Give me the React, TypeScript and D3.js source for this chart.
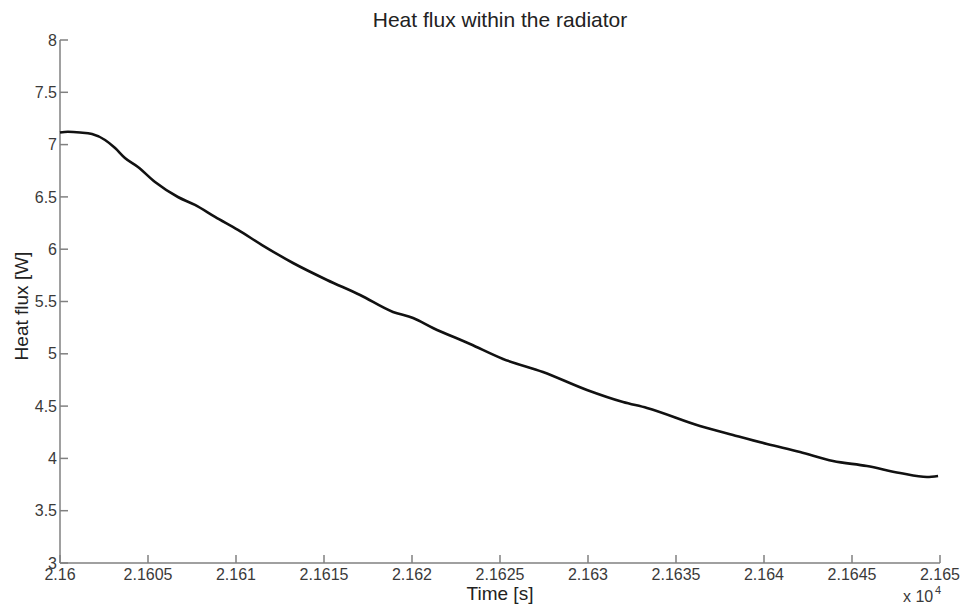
import React from "react";
import * as d3 from "d3";

const title = "Heat flux within the radiator";
const xLabel = "Time [s]";
const yLabel = "Heat flux [W]";

// time in seconds, heat flux in W
const timeValues = [
  21600.0, 21600.45, 21601.14, 21601.82, 21602.56, 21603.13, 21603.69, 21604.43,
  21605.4, 21606.7, 21607.67, 21608.81, 21610.11, 21611.48, 21613.24, 21615.17,
  21617.05, 21618.92, 21620.06, 21621.19, 21623.3, 21625.17, 21627.44, 21629.94,
  21631.99, 21633.35, 21636.36, 21638.24, 21640.17, 21642.05, 21643.92, 21645.85,
  21647.73, 21649.26, 21649.89,
];
const fluxValues = [
  7.115, 7.123, 7.116, 7.101, 7.044, 6.967, 6.872, 6.786,
  6.642, 6.499, 6.423, 6.308, 6.184, 6.04, 5.868, 5.706,
  5.562, 5.4, 5.342, 5.247, 5.094, 4.951, 4.826, 4.654,
  4.539, 4.482, 4.31, 4.224, 4.138, 4.061, 3.975, 3.927,
  3.86, 3.822, 3.832,
];

const xTicks = [2.16, 2.1605, 2.161, 2.1615, 2.162, 2.1625, 2.163, 2.1635, 2.164, 2.1645, 2.165];
const xTickLabels = ["2.16", "2.1605", "2.161", "2.1615", "2.162", "2.1625", "2.163", "2.1635", "2.164", "2.1645", "2.165"];
const yTicks = [3, 3.5, 4, 4.5, 5, 5.5, 6, 6.5, 7, 7.5, 8];
const yTickLabels = ["3", "3.5", "4", "4.5", "5", "5.5", "6", "6.5", "7", "7.5", "8"];

const W = 969;
const H = 606;
const left = 60;
const right = 940;
const top = 40;
const bottom = 563;
const font = "'Liberation Sans', Arial, sans-serif";

export default function App() {
  const x = d3.scaleLinear().domain([2.16, 2.165]).range([left, right]);
  const y = d3.scaleLinear().domain([3, 8]).range([bottom, top]);
  const data = timeValues.map((t, i) => ({ t: t / 1e4, v: fluxValues[i] }));
  const line = d3
    .line<{ t: number; v: number }>()
    .x((d) => x(d.t))
    .y((d) => y(d.v))
    .curve(d3.curveMonotoneX);

  const axisColor = "#808080";
  const textColor = "#3a3a3a";
  const tickLen = 8;

  return (
    <svg
      width={W}
      height={H}
      style={{ position: "absolute", left: 0, top: 0, background: "#fff" }}
      fontFamily={font}
    >
      <rect x={0} y={0} width={W} height={H} fill="#fff" />
      {/* axes */}
      <line x1={left} y1={top} x2={left} y2={bottom} stroke={axisColor} strokeWidth={1.5} />
      <line x1={left} y1={bottom} x2={right} y2={bottom} stroke={axisColor} strokeWidth={1.5} />
      {yTicks.map((t, i) => (
        <g key={"y" + i}>
          <line x1={left} x2={left + tickLen} y1={y(t)} y2={y(t)} stroke={axisColor} strokeWidth={1.5} />
          <text x={left - 3} y={y(t)} dy="0.35em" textAnchor="end" fontSize={16} fill={textColor}>
            {yTickLabels[i]}
          </text>
        </g>
      ))}
      {xTicks.map((t, i) => (
        <g key={"x" + i}>
          <line x1={x(t)} x2={x(t)} y1={bottom} y2={bottom - tickLen} stroke={axisColor} strokeWidth={1.5} />
          <text x={x(t)} y={bottom + 17} textAnchor="middle" fontSize={16} fill={textColor}>
            {xTickLabels[i]}
          </text>
        </g>
      ))}
      <text x={903} y={602} fontSize={16} fill={textColor}>
        x 10
      </text>
      <text x={935} y={594} fontSize={11} fill={textColor}>
        4
      </text>
      {/* curve */}
      <path d={line(data) || ""} fill="none" stroke="#111" strokeWidth={2.6} strokeLinejoin="round" />
      {/* labels */}
      <text x={(left + right) / 2} y={27} textAnchor="middle" fontSize={21} fill="#222">
        {title}
      </text>
      <text x={(left + right) / 2} y={600} textAnchor="middle" fontSize={19} fill="#222">
        {xLabel}
      </text>
      <text
        transform={`translate(28, 306) rotate(-90)`}
        textAnchor="middle"
        fontSize={19}
        fill="#222"
      >
        {yLabel}
      </text>
    </svg>
  );
}
